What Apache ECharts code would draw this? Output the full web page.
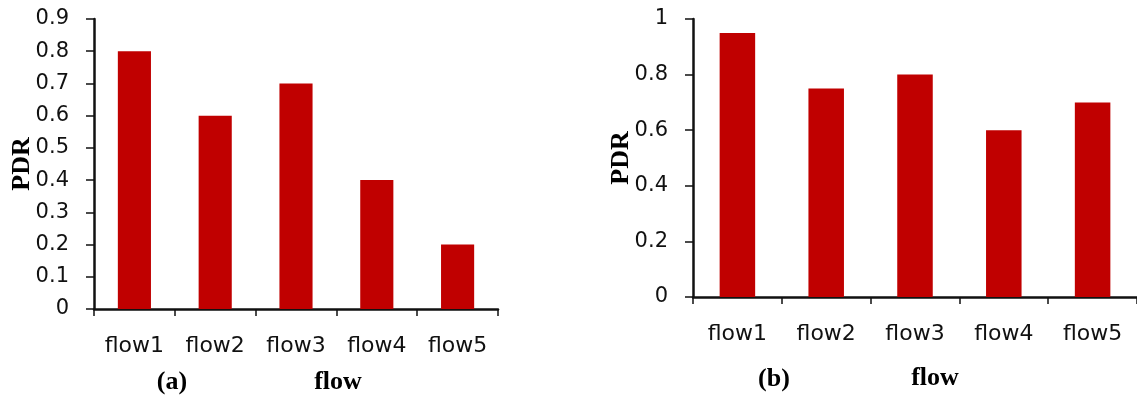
<!DOCTYPE html>
<html>
<head>
<meta charset="utf-8">
<script src="https://cdn.jsdelivr.net/npm/echarts@6/dist/echarts.min.js"></script>
<style>
  html, body { margin: 0; padding: 0; background: #fff; }
  #chart { width: 1137px; height: 397px; }
</style>
</head>
<body>
<div id="chart"></div>
<script>
// Flow categories shared by both panels
const categories = ['flow1', 'flow2', 'flow3', 'flow4', 'flow5'];
// Packet delivery ratio per flow, panel (a) and panel (b)
const pdrA = [0.8, 0.6, 0.7, 0.4, 0.2];
const pdrB = [0.95, 0.75, 0.8, 0.6, 0.7];

const BAR = '#C00000';
const AXIS = '#111';
const labelFont = 'DejaVu Sans';
const titleFont = '"Times New Roman", "Liberation Serif", serif';

function xAxisFor(gridIndex) {
  return {
    type: 'category', gridIndex, data: categories,
    axisLine: { lineStyle: { color: AXIS, width: 2.5 } },
    axisTick: { show: true, length: 7, lineStyle: { color: AXIS, width: 1.5 } },
    axisLabel: { color: '#111', fontFamily: labelFont, fontSize: 22, margin: 26 },
    splitLine: { show: false }
  };
}
function yAxisFor(gridIndex, max, interval) {
  return {
    type: 'value', gridIndex, min: 0, max, interval,
    axisLine: { show: true, lineStyle: { color: AXIS, width: 2.5 } },
    axisTick: { show: true, length: 8, lineStyle: { color: AXIS, width: 1.5 } },
    axisLabel: { color: '#111', fontFamily: labelFont, fontSize: 21, margin: 25 },
    splitLine: { show: false }
  };
}
function caption(text, x, y, rotation) {
  return {
    type: 'text', x, y, rotation: rotation || 0,
    style: {
      text, fill: '#000', font: 'bold 26px ' + titleFont,
      align: 'center', verticalAlign: 'middle'
    }
  };
}

const chart = echarts.init(document.getElementById('chart'), null, { renderer: 'canvas' });
chart.setOption({
  animation: false,
  backgroundColor: '#fff',
  grid: [
    { left: 94, top: 19, width: 404, height: 290 },
    { left: 693, top: 19, width: 445, height: 278 }
  ],
  xAxis: [xAxisFor(0), xAxisFor(1)],
  yAxis: [yAxisFor(0, 0.9, 0.1), yAxisFor(1, 1, 0.2)],
  series: [
    { type: 'bar', xAxisIndex: 0, yAxisIndex: 0, data: pdrA, barWidth: '41%',
      itemStyle: { color: BAR } },
    { type: 'bar', xAxisIndex: 1, yAxisIndex: 1, data: pdrB, barWidth: '40%',
      itemStyle: { color: BAR } }
  ],
  graphic: [
    caption('PDR', 22, 164, Math.PI / 2),
    caption('PDR', 621, 158, Math.PI / 2),
    caption('(a)', 172, 382),
    caption('flow', 338, 382),
    caption('(b)', 774, 379),
    caption('flow', 935, 378)
  ]
});
</script>
</body>
</html>
